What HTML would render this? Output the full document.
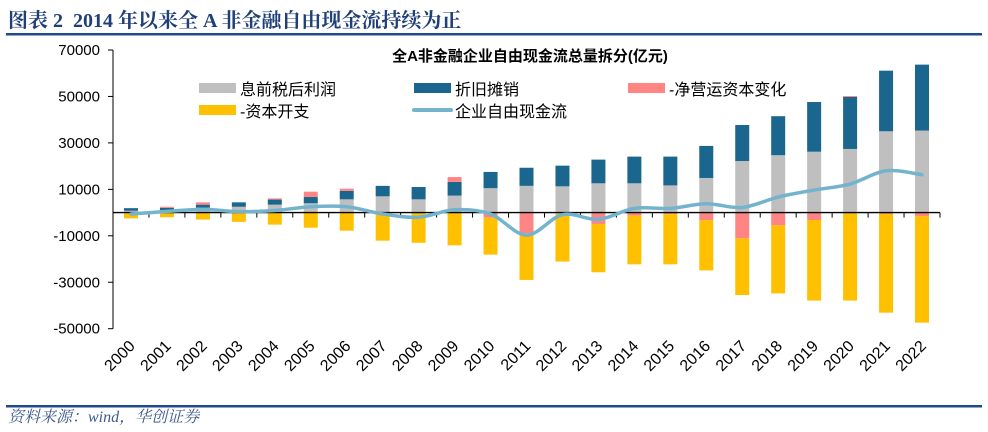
<!DOCTYPE html>
<html><head><meta charset="utf-8"><style>
body{margin:0;background:#fff;width:988px;height:432px;overflow:hidden}
svg{display:block}
text{font-family:"Liberation Sans","Noto Sans CJK SC",sans-serif}
.serif{font-family:"Liberation Serif","Noto Serif CJK SC",serif}
</style></head><body>
<svg id="chart" width="988" height="432">
<text class="serif" x="8" y="27" font-size="20" font-weight="bold" fill="#1f3f78">图表 2&#160;&#160;2014 年以来全 A 非金融自由现金流持续为正</text>
<rect x="6" y="33" width="976" height="2.5" fill="#1f4a8c"/>
<text x="530" y="61" font-size="15" font-weight="bold" text-anchor="middle" fill="#000">全A非金融企业自由现金流总量拆分(亿元)</text>
<g id="legend">
<rect x="199" y="83" width="37" height="10" fill="#bfbfbf"/>
<text x="240" y="95" font-size="16">息前税后利润</text>
<rect x="414" y="83" width="37" height="10" fill="#1a668e"/>
<text x="455" y="95" font-size="16">折旧摊销</text>
<rect x="628" y="83" width="37" height="10" fill="#ff8585"/>
<text x="669" y="95" font-size="16">-净营运资本变化</text>
<rect x="199" y="105" width="37" height="10" fill="#ffc000"/>
<text x="240" y="117" font-size="16">-资本开支</text>
<line x1="414" y1="110" x2="451" y2="110" stroke="#74b3ce" stroke-width="4" stroke-linecap="round"/>
<text x="455" y="117" font-size="16">企业自由现金流</text>
</g>
<g id="plot"></g>
<rect x="6" y="405" width="976" height="2.5" fill="#1f4a8c"/>
<text class="serif" x="8" y="422" font-size="16" font-style="italic" fill="#3c5a8a">资料来源：wind，华创证券</text>
</svg>
<script>
const years=["2000","2001","2002","2003","2004","2005","2006","2007","2008","2009","2010","2011","2012","2013","2014","2015","2016","2017","2018","2019","2020","2021","2022"];
const ebit=[800,1000,2100,2500,3400,4000,5700,7000,5700,7300,10500,11500,11300,12600,12600,11700,14900,22200,24700,26200,27400,35000,35300];
const da=[1100,1000,1300,1900,2200,2700,3600,4500,5300,5900,7000,7800,8900,10200,11500,12400,13800,15500,16800,21400,22400,26100,28400];
const wc=[-300,500,1000,0,500,2300,1000,-300,0,2100,-2200,-8900,-300,-4900,-1300,-700,-3300,-11100,-5500,-3200,400,-600,-1500];
const capex=[-2200,-2000,-3000,-4000,-5200,-6500,-7800,-11800,-13000,-14100,-15900,-20100,-20800,-20800,-21000,-21600,-21600,-24400,-29300,-34700,-37900,-42500,-45900];
const yTicks=[70000,50000,30000,10000,-10000,-30000,-50000];
(function(){
const NS="http://www.w3.org/2000/svg";
const g=document.getElementById('plot');
const yMax=70000,yMin=-50000,pTop=50,pBot=328.7,left=113,right=940;
const Y=v=>pTop+(yMax-v)/(yMax-yMin)*(pBot-pTop);
const step=(right-left)/years.length;
const X=i=>left+step*(i+0.5);
const bw=14;
function el(t,a){const e=document.createElementNS(NS,t);for(const k in a)e.setAttribute(k,a[k]);g.appendChild(e);return e;}
let ax=el('line',{x1:left,y1:pTop,x2:left,y2:pBot,stroke:'#000','stroke-width':1});


yTicks.forEach(v=>{
 const t=el('line',{x1:left-5,x2:left,y1:Y(v),y2:Y(v),stroke:'#000'});
 
 
 const l=el('text',{x:left-13,y:Y(v)+5,'font-size':15,'text-anchor':'end'});
 l.textContent=v;
 
 
});
const fcf=[];
years.forEach((yr,i)=>{
 const x=X(i)-bw/2;
 const rect=(a,b,c,n)=>{const r=el('rect',{x:x,y:Math.min(Y(a),Y(b)),width:bw,height:Math.abs(Y(a)-Y(b)),fill:c});
  
  };
 let p=0,n=0;
 rect(p,p+ebit[i],'#bfbfbf','bar-ebit-'+yr);p+=ebit[i];
 rect(p,p+da[i],'#1a668e','bar-da-'+yr);p+=da[i];
 if(wc[i]>=0){rect(p,p+wc[i],'#ff8585','bar-wc-'+yr);}else{rect(n,n+wc[i],'#ff8585','bar-wc-'+yr);n+=wc[i];}
 rect(n,n+capex[i],'#ffc000','bar-capex-'+yr);
 fcf.push(ebit[i]+da[i]+wc[i]+capex[i]);
});
let xa=el('line',{x1:left,y1:Y(0),x2:right,y2:Y(0),stroke:'#000','stroke-width':1.3});


for(let i=0;i<=years.length;i++){
 const t=el('line',{x1:left+step*i,x2:left+step*i,y1:Y(0),y2:Y(0)+5,stroke:'#000'});
 
 
}
years.forEach((yr,i)=>{
 const tx=X(i)+5,ty=347;
 const l=el('text',{x:tx,y:ty,'font-size':16,'text-anchor':'end',transform:`rotate(-45 ${tx} ${ty})`});
 l.textContent=yr;
 
 
});
const pts=fcf.map((v,i)=>[X(i),Y(v)]);
let d=`M${pts[0][0]},${pts[0][1]}`;
for(let i=0;i<pts.length-1;i++){
 const p0=pts[Math.max(0,i-1)],p1=pts[i],p2=pts[i+1],p3=pts[Math.min(pts.length-1,i+2)];
 const c1=[p1[0]+(p2[0]-p0[0])/6,p1[1]+(p2[1]-p0[1])/6],c2=[p2[0]-(p3[0]-p1[0])/6,p2[1]-(p3[1]-p1[1])/6];
 d+=` C${c1[0]},${c1[1]} ${c2[0]},${c2[1]} ${p2[0]},${p2[1]}`;
}
const ln=el('path',{d:d,fill:'none',stroke:'#74b3ce','stroke-width':3.5,'stroke-linecap':'round'});


})();
</script>
</body></html>
